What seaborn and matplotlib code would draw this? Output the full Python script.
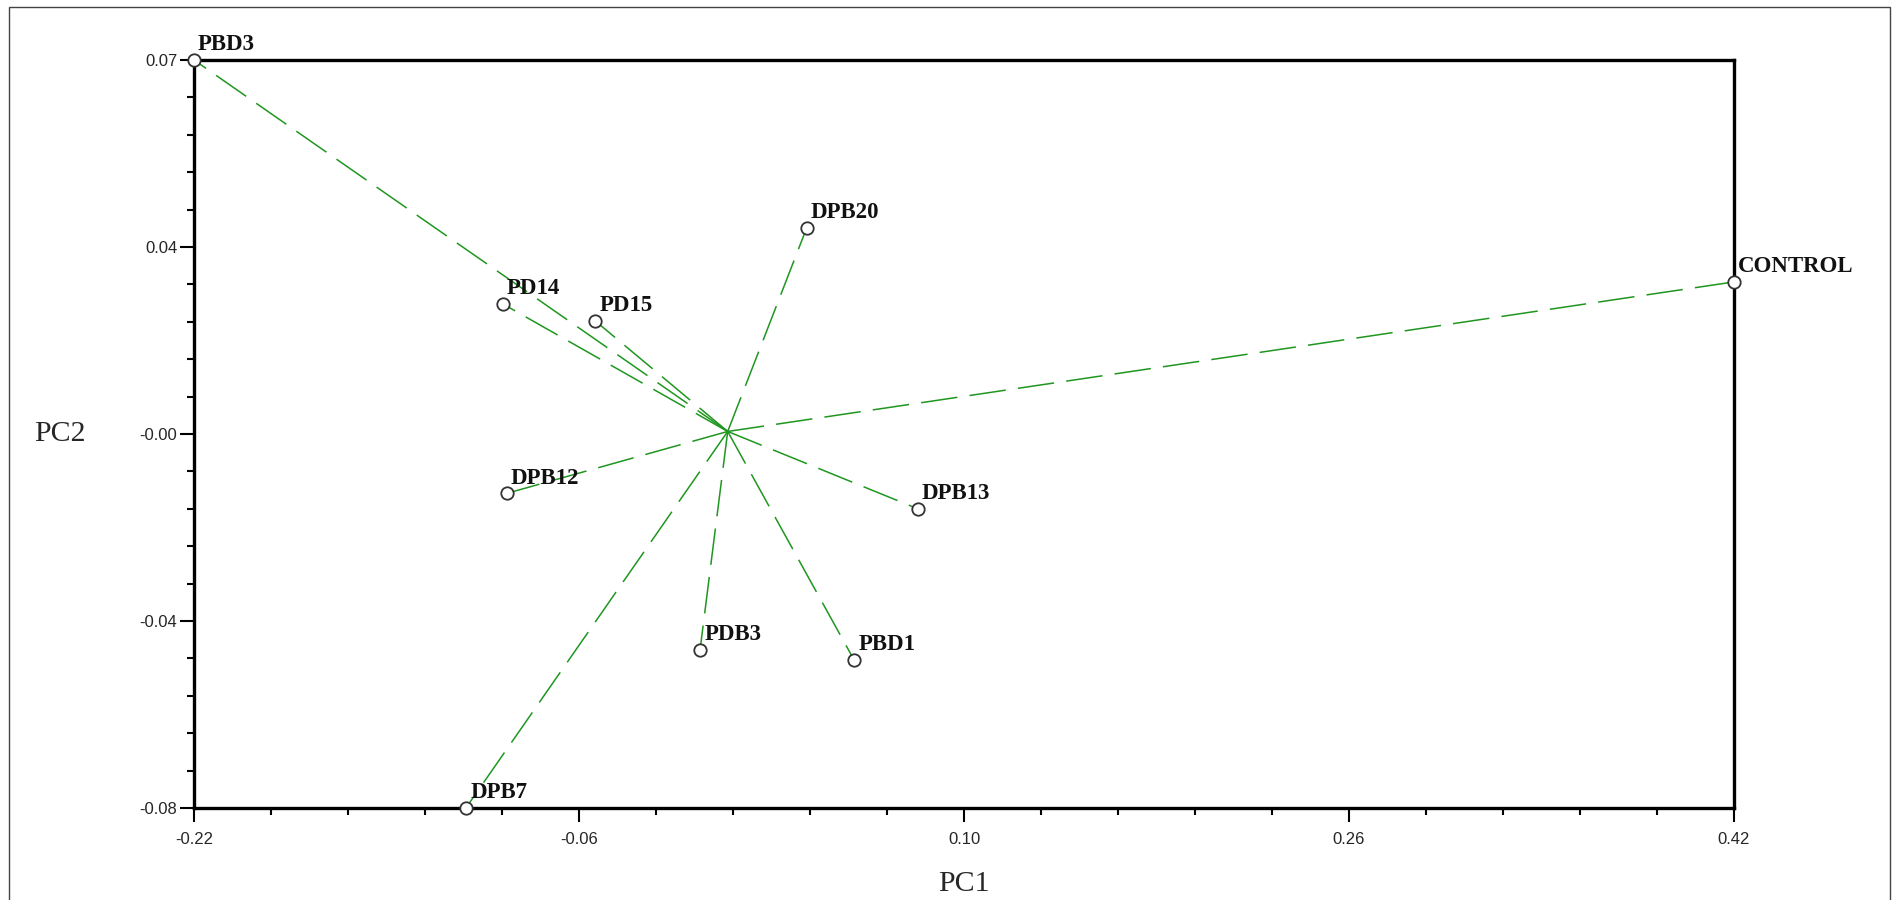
import numpy as np
import pandas as pd
import matplotlib
matplotlib.use('Agg')
import matplotlib.pyplot as plt
import seaborn as sns
from matplotlib.ticker import FixedLocator, FixedFormatter
from matplotlib.patches import Rectangle

# PCA scores
samples = ['PBD3', 'CONTROL', 'PDB3', 'PBD1', 'DPB20', 'PD14', 'PD15', 'DPB12', 'DPB13', 'DPB7']
pc1 = [-0.220, 0.420, -0.0097, 0.0543, 0.0346, -0.0917, -0.0533, -0.0900, 0.0808, -0.1070]
pc2 = [0.0725, 0.0280, -0.0458, -0.0478, 0.0388, 0.0236, 0.0202, -0.0144, -0.0175, -0.0775]

xticks = [-0.22, -0.06, 0.10, 0.26, 0.42]
yticks = [0.0725, 0.035, -0.0025, -0.04, -0.0775]
yticklabels = ['0.07', '0.04', '-0.00', '-0.04', '-0.08']

green = '#1f961f'

df = pd.DataFrame({'sample': samples, 'pc1': pc1, 'pc2': pc2})
cx, cy = df['pc1'].mean(), df['pc2'].mean()

# one segment per sample, from the centroid to the score
seg = pd.concat([
    pd.DataFrame({'sample': df['sample'], 'pc1': cx, 'pc2': cy, 'order': 0}),
    df.assign(order=1),
]).sort_values(['sample', 'order'])

sns.set_theme(style='white')
plt.rcParams['font.family'] = ['Liberation Sans', 'DejaVu Sans']

fig = plt.figure(figsize=(18.92, 9.0), dpi=100)
ax = fig.add_axes([194 / 1892, 1 - 808 / 900, 1540 / 1892, 748 / 900])

sns.lineplot(data=seg, x='pc1', y='pc2', units='sample', estimator=None, sort=False,
             color=green, lw=1.1, linestyle=(0, (24, 8)), ax=ax, zorder=2)
sns.scatterplot(data=df, x='pc1', y='pc2', s=80, facecolor='white', edgecolor='#333333',
                linewidth=1.3, ax=ax, zorder=5, clip_on=False)

for _, r in df.iterrows():
    ax.annotate(r['sample'], (r['pc1'], r['pc2']), xytext=(3, 7), textcoords='offset points',
                ha='left', va='baseline', fontsize=16.5, fontweight='bold',
                family=['Liberation Serif', 'DejaVu Serif'], color='#111111',
                annotation_clip=False, zorder=6)

ax.set_xlim(xticks[0], xticks[-1])
ax.set_ylim(yticks[-1], yticks[0])

# 5 subdivisions between labelled ticks
xminor = np.linspace(xticks[0], xticks[-1], 5 * (len(xticks) - 1) + 1)
yminor = np.linspace(yticks[-1], yticks[0], 5 * (len(yticks) - 1) + 1)

ax.xaxis.set_major_locator(FixedLocator(xticks))
ax.xaxis.set_major_formatter(FixedFormatter(['%.2f' % v for v in xticks]))
ax.xaxis.set_minor_locator(FixedLocator(xminor))
ax.yaxis.set_major_locator(FixedLocator(yticks))
ax.yaxis.set_major_formatter(FixedFormatter(yticklabels))
ax.yaxis.set_minor_locator(FixedLocator(yminor))

ax.tick_params(which='both', direction='out', color='black', width=1.5,
               bottom=True, left=True, top=False, right=False)
ax.tick_params(which='major', length=10, labelsize=12, pad=2)
ax.tick_params(axis='x', which='major', pad=7)
ax.tick_params(which='minor', length=5)

for sp in ax.spines.values():
    sp.set_visible(True)
    sp.set_color('black')
    sp.set_linewidth(2.4)

ax.set_xlabel('PC1', fontsize=21.5, family=['Liberation Serif', 'DejaVu Serif'])
ax.set_ylabel('PC2', fontsize=21.5, family=['Liberation Serif', 'DejaVu Serif'],
              rotation=0, ha='center', va='center')
ax.xaxis.set_label_coords(0.5, -0.084)
ax.yaxis.set_label_coords(-0.087, 0.5)

# thin border around the whole picture
fig.patches.append(Rectangle((9 / 1892, -0.05), 1881 / 1892, 1.05 - 7 / 900,
                             transform=fig.transFigure, fill=False,
                             edgecolor='#444444', lw=1.0))

fig.savefig('out.png', dpi=100)
